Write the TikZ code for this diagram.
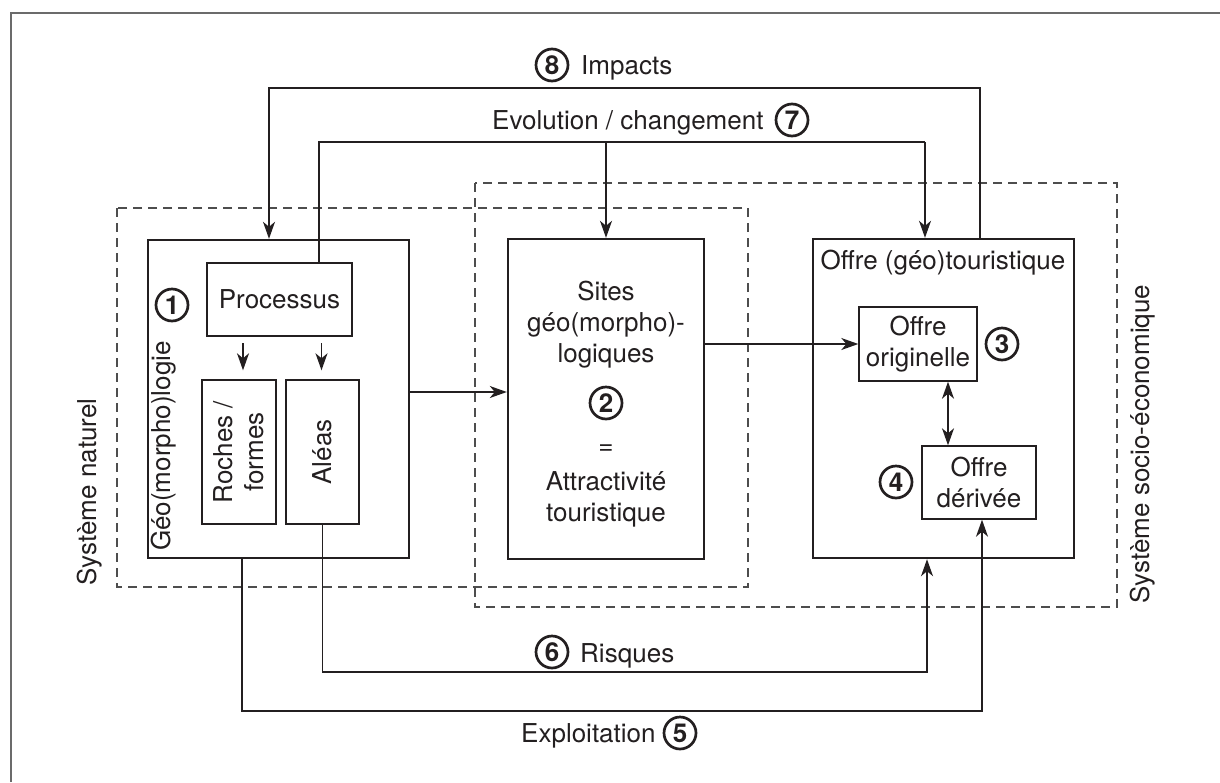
\documentclass[tikz,border=0pt]{standalone}
\usepackage{fontspec}
\setmainfont{TeX Gyre Heros}
\usetikzlibrary{arrows.meta}
\definecolor{ink}{HTML}{231F20}
\definecolor{dashgray}{HTML}{4D4D4D}
\definecolor{framegray}{HTML}{6B6B6B}

\begin{document}
\begin{tikzpicture}[x=1pt,y=-1pt,
  txt/.style={font=\fontsize{26}{31}\selectfont, text=ink, inner sep=0pt, align=center},
  bigbox/.style={draw=ink, line width=2.4pt, inner sep=0pt},
  smallbox/.style={draw=ink, line width=1.4pt, inner sep=0pt},
  num/.style={circle, draw=ink, line width=2.7pt, inner sep=0pt, minimum size=32pt,
    text=ink, font=\fontsize{26}{26}\selectfont\bfseries},
  conn/.style={draw=ink, line width=1.4pt},
  arr/.style={conn, -{Stealth[length=17pt,width=12pt,inset=5pt]}},
  darr/.style={conn, {Stealth[length=17pt,width=12pt,inset=5pt]}-{Stealth[length=17pt,width=12pt,inset=5pt]}},
  sysbox/.style={draw=dashgray, line width=1.4pt, dash pattern=on 9pt off 6pt}]

\useasboundingbox (0,0) rectangle (1220,782);

% frame
\draw[framegray, line width=2pt] (11,782) -- (11,13) -- (1220,13);

% system boundaries
\draw[sysbox] (117,208) rectangle (748,587);
\draw[sysbox] (475,183) rectangle (1117,607);
\node[txt, rotate=90] (natLbl) at (90,492) {Système naturel};
\node[txt, rotate=90] (socLbl) at (1143,444) {Système socio-économique};

% (1) geo(morpho)logy
\node[bigbox, minimum width=261pt, minimum height=318pt] (geo) at (278.5,399) {};
\node[txt, rotate=90] (geoTxt) at (164,446) {Géo(morpho)logie};
\node[num] (n1) at (172,305) {1};
\node[smallbox, minimum width=145pt, minimum height=73pt, txt] (proc) at (279.5,299.5) {Processus};
\node[smallbox, minimum width=74pt, minimum height=144pt] (roches) at (239,452) {};
\node[txt, rotate=90] (rochesTxt) at (roches) {Roches /\\formes};
\node[smallbox, minimum width=73pt, minimum height=144pt] (aleas) at (322.5,452) {};
\node[txt, rotate=90] (aleasTxt) at (aleas) {Aléas};

\coordinate (pr1) at ([xshift=4pt,yshift=36pt]roches.north);
\coordinate (pr2) at ([xshift=4pt,yshift=9pt]roches.north);
\coordinate (pa1) at ([xshift=-1pt,yshift=36pt]aleas.north);
\coordinate (pa2) at ([xshift=-1pt,yshift=9pt]aleas.north);
\draw[arr] (pr1) -- (pr2);
\draw[arr] (pa1) -- (pa2);

% (2) sites
\node[bigbox, minimum width=196pt, minimum height=320pt] (sites) at (606,399) {};
\node[txt] (sitesTxt) at (606,325) {Sites\\géo(morpho)-\\logiques};
\node[num] (n2) at (606,403) {2};
\node[txt] (eqTxt) at (606,450) {=};
\node[txt] (attrTxt) at (606,499) {Attractivité\\touristique};

% (3)(4) tourist offer
\node[bigbox, minimum width=261pt, minimum height=319pt] (offre) at (943.5,398.5) {};
\node[txt] (offreTitle) at (943,263) {Offre (géo)touristique};
\node[smallbox, minimum width=118pt, minimum height=74pt, txt] (orig) at (918,344) {Offre\\originelle};
\node[num] (n3) at (1002,344) {3};
\node[smallbox, minimum width=114pt, minimum height=73pt, txt] (deriv) at (979,482.5) {Offre\\dérivée};
\node[num] (n4) at (896,482) {4};

% flows between the blocks
\draw[arr] ([yshift=7pt]geo.east) -- ([yshift=7pt]sites.west);
\draw[arr] (sites.east |- orig.west) -- (orig.west);
\draw[darr] ([xshift=30pt]orig.south) -- ([xshift=30pt]orig.south |- deriv.north);

% (8) impacts
\coordinate (impLine) at (600,88);
\draw[arr] ([xshift=36.5pt]offre.north) |- (impLine) -| ([xshift=-9.5pt]geo.north);
\node[num] (n8) at (552,65) {8};
\node[txt, anchor=base west] (impLbl) at (581,74) {Impacts};

% (7) evolution / change
\coordinate (evoLine) at (606,142);
\coordinate (evoRight) at (925,142);
\draw[conn] ([xshift=39.5pt]proc.north) |- (evoLine) -- (evoRight);
\draw[arr] (evoRight) -- ([xshift=-18.5pt]offre.north);
\draw[arr] (evoLine) -- (sites.north);
\node[txt, anchor=base west] (evoLbl) at (492,129) {Evolution / changement};
\node[num] (n7) at (792,120) {7};

% (6) risks
\coordinate (riskLine) at (600,672);
\draw[arr] (aleas.south) |- (riskLine) -| ([xshift=-16.5pt]offre.south);
\node[num] (n6) at (552,652) {6};
\node[txt, anchor=base west] (riskLbl) at (580,662) {Risques};

% (5) exploitation
\coordinate (exploLine) at (600,711);
\draw[arr] ([xshift=-36.5pt]geo.south) |- (exploLine) -| ([xshift=3pt]deriv.south);
\node[txt, anchor=base west] (exploLbl) at (521,742) {Exploitation};
\node[num] (n5) at (680,733) {5};

\end{tikzpicture}
\end{document}
